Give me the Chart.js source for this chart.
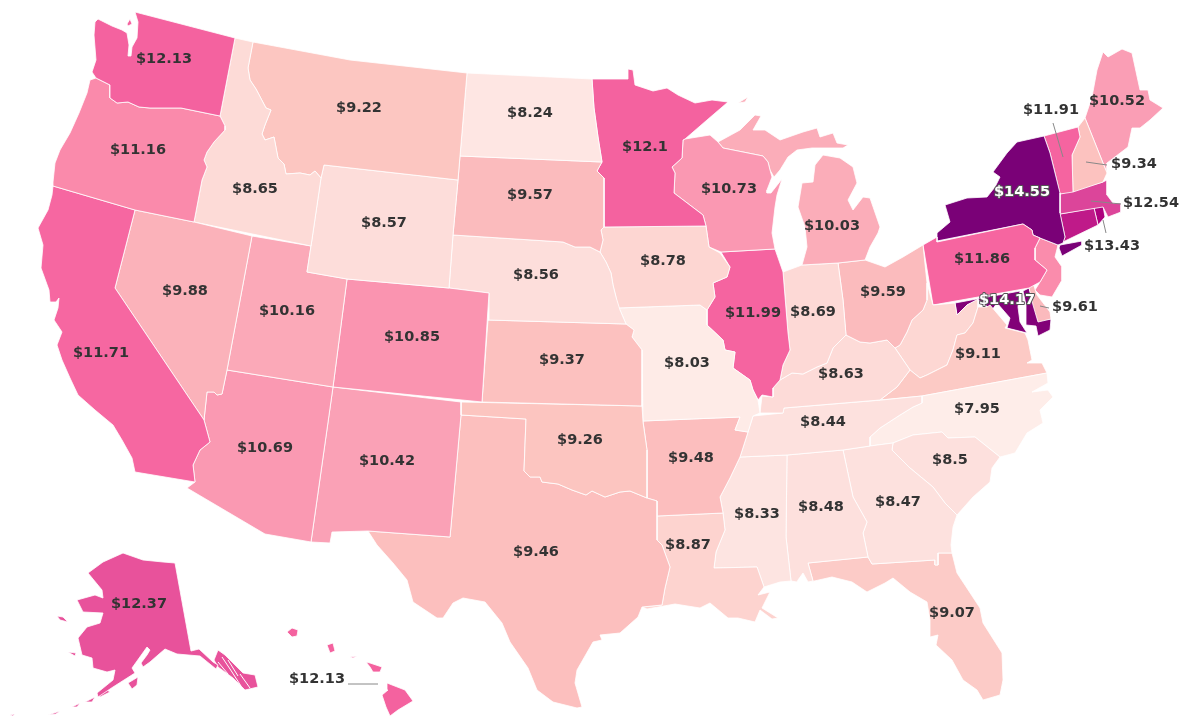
<!DOCTYPE html>
<html>
<head>
<meta charset="utf-8">
<title>Hourly wage by US state</title>
<script src="https://cdn.jsdelivr.net/npm/chart.js@4"></script>
<style>html,body{margin:0;padding:0;background:#fff}canvas{display:block}</style>
</head>
<body>
<canvas id="c" width="1200" height="720"></canvas>
<script>
// State values (hourly wage); the three states with no printed label carry an estimate read from their colour.
const stateCodes = ["WA","OR","CA","NV","ID","MT","WY","UT","CO","AZ","NM","ND","SD","NE","KS","OK","TX","MN","IA","MO","AR","LA","WI","IL","MI","IN","OH","KY","TN","MS","AL","GA","FL","SC","NC","VA","WV","PA","NY","VT","NH","ME","MA","CT","RI","NJ","DE","MD","AK","HI"];
const stateWages = [12.13,11.16,11.71,9.88,8.65,9.22,8.57,10.16,10.85,10.69,10.42,8.24,9.57,8.56,9.37,9.26,9.46,12.1,8.78,8.03,9.48,8.87,10.73,11.99,10.03,8.69,9.59,8.63,8.44,8.33,8.48,8.47,9.07,8.5,7.95,9.11,8.75,11.86,14.55,11.91,9.34,10.52,12.54,13.1,13.43,11.1,9.61,14.17,12.37,12.13];
const unlabelledStates = ["WV","CT","NJ"];
const lightTextStates = ["NY","MD"];
// Label anchors in map units, same order as stateCodes.
const labelX = [164,138,101,185,255,359,384,287,412,265,387,530,530,536,562,580,536,645,663,687,691,688,729,753,832,813,883,841,823,757,821,898,952,950,977,978,0,982,1022,1051,1134,1117,1151,0,1112,0,1075,1007,139,317];
const labelY = [59,150,353,291,189,108,223,311,337,448,461,113,195,275,360,440,552,147,261,363,458,545,189,313,226,312,292,374,422,514,507,502,613,460,409,354,0,259,192,110,164,101,203,0,246,0,307,300,604,679];
// Colour ramp breakpoints.
const rampValues = [7.5,8.5,9.25,10.5,11.16,11.6,12.13,12.37,12.6,13.43,14.3];
const rampColours = ["#fff7f3","#fde0dd","#fcc5c0","#fa9fb5","#fa8aab","#f768a1","#f4629f","#e8529b","#d8409a","#ae017e","#7a0177"];

// Outlines in map units [x,y,...].
const WA=[135,12,235,38,220,116,181,108,172,108,150,108,139,107,128,102,117,103,110,98,110,85,102,81,96,78,92,72,96,60,94,35,95,22,98,19,112,26,122,30,127,33,129,45,128,56,131,56,132,47,137,38,138,22];
const WA_isle=[127,24,130,19,132,24,128,26];
const OR=[90,80,96,78,102,81,110,85,110,98,117,103,128,102,139,107,150,108,172,108,181,108,220,116,225,126,225,130,214,142,207,152,204,160,207,167,202,180,194,222,135,210,53,186,53,182,55,163,60,150,70,133,79,113,87,93];
const ID=[235,38,253,42,248,68,250,80,256,89,266,108,271,110,265,125,262,134,265,140,274,137,278,158,284,164,286,174,300,173,310,175,315,171,321,178,311,246,194,222,202,180,207,167,204,160,207,152,214,142,225,130,225,126,220,116];
const MT=[253,42,350,60,467,73,460,156,458,180,324,165,321,178,315,171,310,175,300,173,286,174,284,164,278,158,274,137,265,140,262,134,265,125,271,110,266,108,256,89,250,80,248,68];
const ND=[467,73,592,79,594,108,598,137,602,162,460,156];
const SD=[460,156,602,162,597,171,604,178,604,227,601,230,603,240,600,252,590,247,575,247,563,242,453,235,458,180];
const WY=[324,165,458,180,453,235,449,288,347,279,307,272,311,246,321,178];
const NE=[453,235,563,242,575,247,590,247,600,252,606,262,611,273,613,285,616,297,620,310,626,324,488,320,489,293,449,288];
const IA=[601,230,604,227,706,226,709,247,720,253,730,267,727,277,713,283,715,297,707,310,700,305,617,308,616,297,613,285,611,273,606,262,600,252,603,240];
const MN=[592,79,628,79,628,69,633,70,635,85,653,91,667,88,678,95,695,103,712,100,728,102,707,120,685,139,683,140,682,158,672,167,675,173,674,193,703,215,706,226,604,227,604,178,597,171,602,162,598,137,594,108];
const WI=[683,140,685,139,710,135,718,142,723,148,763,156,768,162,770,170,772,177,767,190,767,193,771,193,782,179,777,195,775,207,772,233,775,249,721,252,709,247,706,226,703,215,674,193,675,173,672,167,682,158];
const MI_up=[718,142,740,130,755,115,761,116,753,130,765,130,780,140,803,132,817,128,820,137,833,133,837,143,848,145,843,148,825,148,812,148,797,150,788,157,780,170,774,177,770,170,768,162,763,156,723,148];
const MI_isle=[738,103,748,97,745,102];
const MI_lp=[802,265,807,247,805,227,798,207,802,183,813,182,815,165,823,155,840,158,853,167,857,183,848,200,853,210,863,197,870,198,880,227,878,233,870,247,865,260,838,263];
const IN=[783,272,802,265,838,263,843,300,846,335,833,348,827,363,817,367,803,374,792,373,780,380,783,365,790,350,788,333];
const IL=[721,252,775,249,783,272,788,333,790,350,783,365,780,380,773,388,773,397,762,395,758,400,753,390,750,380,733,368,735,352,725,350,723,340,707,325,707,310,715,297,713,283,727,277,730,267];
const MO=[617,308,700,305,707,310,707,325,723,340,725,350,735,352,733,368,750,380,753,390,758,400,760,413,753,416,748,432,735,430,740,417,643,421,642,350,632,337,634,330,626,324,620,310];
const KS=[488,320,626,324,634,330,632,337,642,350,642,406,482,402];
const CO=[347,279,449,288,489,293,482,402,333,387];
const UT=[252,236,311,246,307,272,347,279,333,387,227,370];
const NV=[135,210,194,222,252,236,227,370,222,394,217,395,214,392,207,392,204,420,115,288];
const CA=[53,186,135,210,115,288,204,420,210,442,200,450,193,465,195,482,135,472,132,458,122,440,113,425,95,410,78,395,70,378,62,360,57,345,62,332,54,320,58,308,59,298,56,302,50,302,49,290,41,268,43,245,38,228,48,210,52,195];
const AZ=[227,370,333,387,311,542,265,534,187,488,195,482,193,465,200,450,210,442,204,420,207,392,214,392,217,395,222,394];
const NM=[333,387,461,402,461,415,450,537,368,531,332,532,330,543,311,542];
const OK=[461,402,642,406,643,422,647,450,647,498,630,491,620,492,605,497,592,491,586,495,572,490,558,484,542,482,540,477,530,477,524,471,526,419,461,415];
const TX=[461,415,526,419,524,471,530,477,540,477,542,482,558,484,572,490,586,495,592,491,605,497,620,492,630,491,647,498,657,501,657,516,657,540,662,545,670,567,665,588,662,605,642,607,638,617,620,633,600,635,602,640,593,642,577,670,575,683,582,707,577,708,553,702,537,690,528,668,510,642,502,623,485,602,463,598,453,603,443,618,437,618,413,602,407,580,393,563,377,545,368,531,450,537];
const AR=[643,421,740,417,735,430,748,432,740,457,730,478,720,497,723,513,657,516,657,501,647,498,647,450];
const LA=[657,516,723,513,725,530,716,552,714,568,757,567,764,587,758,595,770,592,762,608,778,618,772,619,760,610,755,622,738,618,728,618,710,603,700,608,675,604,647,609,642,607,662,605,665,588,670,567,662,545,657,540];
const MS=[740,457,787,455,786,537,791,581,780,582,764,587,757,567,714,568,716,552,725,530,723,513,720,497,730,478];
const AL=[787,455,843,450,853,497,867,522,863,533,868,557,808,563,813,581,808,582,803,573,798,580,797,582,791,581,786,537];
const GA=[843,450,870,446,893,443,892,450,910,468,933,487,945,503,957,515,953,527,951,545,952,553,938,553,938,565,935,565,935,560,872,564,868,557,863,533,867,522,853,497];
const FL=[808,563,868,557,872,564,935,560,935,565,938,565,938,553,952,553,957,573,980,608,983,623,1002,653,1003,680,1000,695,983,700,977,690,963,680,952,660,936,645,938,635,930,637,930,620,927,602,910,592,893,578,885,583,867,592,852,582,832,577,810,582,813,581];
const SC=[893,443,913,435,942,432,948,438,975,437,1000,457,992,468,990,482,973,497,957,515,945,503,933,487,910,468,892,450];
const NC=[870,446,870,437,880,428,900,415,913,407,922,403,922,396,1047,373,1048,383,1032,392,1048,390,1053,397,1040,410,1043,423,1027,433,1015,453,1000,457,975,437,948,438,942,432,913,435,893,443];
const TN=[753,416,783,413,784,408,882,400,922,396,922,403,913,407,900,415,880,428,870,437,870,446,843,450,787,455,740,457,748,432];
const KY=[760,413,762,396,773,397,773,388,780,380,792,373,803,374,817,367,827,363,833,348,846,335,860,342,870,343,887,340,895,348,910,370,897,387,880,400,784,408,783,413];
const WV=[895,348,900,345,907,332,912,320,923,310,927,300,927,283,933,305,955,303,957,315,967,305,978,299,978,307,973,323,965,333,957,335,953,350,947,365,927,375,920,378,910,370];
const VA=[880,400,897,387,910,370,920,378,927,375,947,365,953,350,957,335,965,333,973,323,978,307,987,307,990,305,1007,325,1005,328,1025,333,1028,340,1032,360,1027,363,1042,363,1047,373,922,396];
const OH=[838,263,865,260,885,267,903,257,923,245,927,283,927,300,923,310,912,320,907,332,900,345,895,348,887,340,870,343,860,342,846,335,843,300];
const PA=[923,245,937,237,937,242,1023,224,1032,230,1033,235,1040,238,1035,248,1035,260,1047,270,1040,282,1029,288,933,305];
const NJ=[1040,238,1058,245,1055,257,1062,267,1062,280,1052,297,1040,295,1035,290,1040,282,1047,270,1035,260,1035,248];
const NY=[937,241,937,233,950,222,945,205,967,198,987,197,995,187,1000,177,993,172,1007,153,1017,142,1044,136,1050,153,1055,173,1060,193,1060,213,1065,237,1063,243,1058,245,1040,238,1033,235,1032,230,1023,224];
const NY_li=[1060,245,1082,241,1082,245,1062,256,1059,248];
const VT=[1044,136,1078,127,1080,137,1072,155,1073,192,1060,194,1055,173,1050,153];
const NH=[1078,127,1085,118,1107,173,1103,182,1073,192,1072,155,1080,137];
const ME=[1085,118,1092,97,1097,70,1103,52,1108,57,1122,49,1132,53,1140,90,1148,90,1150,100,1163,108,1150,120,1140,128,1132,128,1128,147,1107,163,1107,173];
const MA=[1060,194,1103,182,1107,180,1107,195,1113,203,1121,203,1121,212,1108,217,1103,207,1060,214];
const CT=[1060,214,1094,208,1098,225,1067,240,1063,242,1065,237];
const RI=[1094,208,1103,206,1105,217,1098,225];
const DE=[1029,288,1033,283,1037,295,1050,312,1051,319,1038,322,1033,305];
const MD_w=[955,303,1020,291,1018,307,1020,322,1027,333,1007,328,1010,318,997,303,992,310,978,300,967,305,957,315];
const MD_e=[1023,291,1029,288,1035,305,1038,320,1051,319,1050,330,1038,336,1036,326,1026,325,1026,305];
const AK=[175,563,191,651,199,649,213,662,218,665,216,669,200,656,177,654,165,649,158,655,150,662,143,667,141,663,147,655,150,650,147,647,132,668,135,673,113,687,98,697,97,693,113,680,115,670,107,672,93,668,92,658,82,655,78,638,87,627,100,623,103,613,83,612,77,600,95,595,103,598,102,590,88,573,103,562,123,553,143,560,163,562];
const AK_pan=[218,650,225,655,243,673,255,675,258,687,245,690,233,678,218,667,214,660];
const AK_i1=[57,616,63,617,68,622,60,620];
const AK_i2=[68,652,76,653,75,656];
const AK_i3=[128,683,138,677,137,685,132,689];
const AK_i4=[98,695,107,690,110,692,100,697];
const AK_i5=[85,702,95,697,92,702];
const AK_i6=[72,707,80,703,77,707];
const AK_i7=[48,715,60,711,56,714];
const AK_i8=[10,715,15,714,13,716];
const HI_big=[387,683,405,690,413,701,398,710,390,716,386,707,382,695,388,690];
const HI_maui=[366,662,370,663,382,667,380,672,373,672,370,667];
const HI_mol=[350,657,357,656,353,658];
const HI_oahu=[327,645,333,643,335,651,330,653];
const HI_kauai=[287,632,292,628,298,630,297,636,292,637];

const stateParts = {WA:[WA,WA_isle],OR:[OR],CA:[CA],NV:[NV],ID:[ID],MT:[MT],WY:[WY],UT:[UT],CO:[CO],AZ:[AZ],NM:[NM],ND:[ND],SD:[SD],NE:[NE],KS:[KS],OK:[OK],TX:[TX],MN:[MN],IA:[IA],MO:[MO],AR:[AR],LA:[LA],WI:[WI],IL:[IL],MI:[MI_up,MI_lp,MI_isle],IN:[IN],OH:[OH],KY:[KY],TN:[TN],MS:[MS],AL:[AL],GA:[GA],FL:[FL],SC:[SC],NC:[NC],VA:[VA],WV:[WV],PA:[PA],NY:[NY,NY_li],VT:[VT],NH:[NH],ME:[ME],MA:[MA],CT:[CT],RI:[RI],NJ:[NJ],DE:[DE],MD:[MD_w,MD_e],AK:[AK,AK_pan,AK_i1,AK_i2,AK_i3,AK_i4,AK_i5,AK_i6,AK_i7,AK_i8],HI:[HI_big,HI_maui,HI_mol,HI_oahu,HI_kauai]};

// Leader lines x1,y1,x2,y2 in map units.
const leaders = [[1053,123,1063,157],[1086,162,1107,165],[1091,201,1121,204],[1103,220,1106,233],[1040,306,1049,308],[348,684,378,684]];
// White channels cut through the Alaska panhandle.
const channels = [[222,657,232,672,241,686],[228,660,238,676],[240,674,250,688],[218,662,228,674]];

function hex(c){return [1,3,5].map(i=>parseInt(c.substr(i,2),16));}
function rampColour(v){
  let i=0; while(i<rampValues.length-2 && v>rampValues[i+1]) i++;
  const t=Math.min(1,Math.max(0,(v-rampValues[i])/(rampValues[i+1]-rampValues[i])));
  const a=hex(rampColours[i]),b=hex(rampColours[i+1]);
  return 'rgb('+a.map((q,k)=>Math.round(q+(b[k]-q)*t)).join(',')+')';
}
function toPoints(flat,close){
  const pts=[]; for(let i=0;i<flat.length;i+=2) pts.push({x:flat[i],y:flat[i+1]});
  if(close) pts.push({x:flat[0],y:flat[1]});
  return pts;
}
const datasets=[];
leaders.forEach(l=>datasets.push({data:toPoints(l,false),showLine:true,pointRadius:0,borderColor:'#888888',borderWidth:1,fill:false,clip:false}));
channels.forEach(l=>datasets.push({data:toPoints(l,false),showLine:true,pointRadius:0,borderColor:'#ffffff',borderWidth:1,fill:false,clip:false}));
stateCodes.forEach((code,i)=>{
  const col=rampColour(stateWages[i]);
  stateParts[code].forEach(part=>datasets.push({data:toPoints(part,true),showLine:true,pointRadius:0,borderColor:'#ffffff',borderWidth:0.8,backgroundColor:col,fill:'shape',clip:false}));
});

const wageLabels={id:'wageLabels',afterDatasetsDraw(chart){
  const {ctx,scales:{x,y}}=chart;
  ctx.save();
  ctx.font='bold 14.5px "DejaVu Sans"';
  ctx.textAlign='center';ctx.textBaseline='middle';
  stateCodes.forEach((code,i)=>{
    if(unlabelledStates.includes(code))return;
    const px=x.getPixelForValue(labelX[i]),py=y.getPixelForValue(labelY[i]);
    const txt='$'+stateWages[i];
    if(lightTextStates.includes(code)){
      ctx.lineWidth=2;ctx.strokeStyle='#555555';ctx.lineJoin='round';ctx.strokeText(txt,px,py);
      ctx.fillStyle='#ffffff';
    } else ctx.fillStyle='#333333';
    ctx.fillText(txt,px,py);
  });
  ctx.restore();
}};

new Chart(document.getElementById('c'),{
  type:'scatter',
  data:{datasets},
  options:{
    responsive:false,animation:false,
    layout:{padding:0},
    events:[],
    plugins:{legend:{display:false},tooltip:{enabled:false},title:{display:false}},
    scales:{
      x:{type:'linear',min:0,max:1200,display:false},
      y:{type:'linear',min:0,max:720,reverse:true,display:false}
    }
  },
  plugins:[wageLabels]
});
</script>
</body>
</html>
